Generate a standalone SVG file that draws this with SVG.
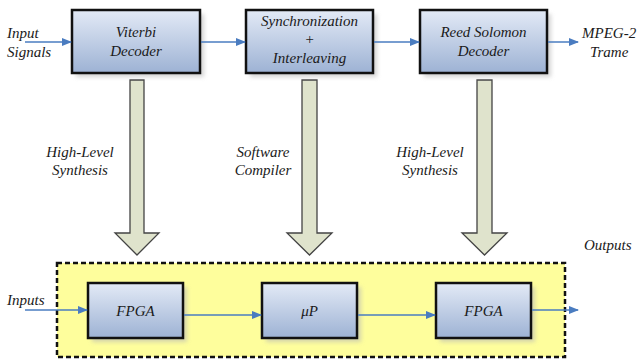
<svg xmlns="http://www.w3.org/2000/svg" width="637" height="360" viewBox="0 0 637 360">
<defs>
<linearGradient id="bg" x1="0" y1="0" x2="0" y2="1">
<stop offset="0" stop-color="#e3eaf6"/>
<stop offset="1" stop-color="#9db2d4"/>
</linearGradient>
<filter id="sh" x="-10%" y="-10%" width="130%" height="130%">
<feGaussianBlur stdDeviation="2"/>
</filter>
<marker id="ah" viewBox="0 0 10 10" refX="9" refY="5" markerWidth="10" markerHeight="10" markerUnits="userSpaceOnUse" orient="auto">
<path d="M0,1 L10,5 L0,9 Z" fill="#4a7cc0"/>
</marker>
</defs>
<style>
.box{fill:url(#bg);stroke:#111;stroke-width:2.5}
.shadow{fill:#b8b8b8;opacity:0.6;filter:url(#sh)}
text{font-family:"Times New Roman","Liberation Serif","Noto Serif",serif;font-style:italic;font-size:15px;fill:#1a1a1a}
.t{text-anchor:middle}
.c{stroke:#4a7cc0;stroke-width:1.5;fill:none;marker-end:url(#ah)}
.big{fill:#dfe3cc;stroke:#444;stroke-width:1.3}
</style>
<rect width="637" height="360" fill="#fff"/>
<g id="platform">
<rect x="57" y="263" width="508" height="94" fill="#fefe9c" stroke="#111" stroke-width="2.5" stroke-dasharray="5,3"/>
</g>
<g id="bigarrows">
<path class="big" d="M130,80 H144 V233 H159 L137,255 L115,233 H130 Z"/>
<path class="big" d="M302,80 H317 V233 H332 L309.5,255 L287,233 H302 Z"/>
<path class="big" d="M477,80 H492 V233 H507 L484.5,255 L462,233 H477 Z"/>
</g>
<g id="viterbi">
<rect class="shadow" x="76" y="14" width="128" height="63"/>
<rect class="box" x="72" y="10" width="128" height="63"/>
<text class="t" x="136" y="37">Viterbi</text>
<text class="t" x="136" y="56">Decoder</text>
</g>
<g id="sync">
<rect class="shadow" x="250" y="14" width="127" height="63"/>
<rect class="box" x="246" y="10" width="127" height="63"/>
<text class="t" x="309.5" y="26">Synchronization</text>
<text class="t" x="309.5" y="44">+</text>
<text class="t" x="309.5" y="63">Interleaving</text>
</g>
<g id="rs">
<rect class="shadow" x="424" y="14" width="127" height="63"/>
<rect class="box" x="420" y="10" width="127" height="63"/>
<text class="t" x="483.5" y="37">Reed Solomon</text>
<text class="t" x="483.5" y="56">Decoder</text>
</g>
<g id="fpga1">
<rect class="shadow" x="92" y="287" width="95" height="55"/>
<rect class="box" x="88" y="283" width="95" height="55"/>
<text class="t" x="135.5" y="316">FPGA</text>
</g>
<g id="up">
<rect class="shadow" x="266" y="287" width="95" height="55"/>
<rect class="box" x="262" y="283" width="95" height="55"/>
<text class="t" x="309.5" y="316">μP</text>
</g>
<g id="fpga2">
<rect class="shadow" x="440" y="287" width="95" height="55"/>
<rect class="box" x="436" y="283" width="95" height="55"/>
<text class="t" x="483.5" y="316">FPGA</text>
</g>
<g id="connectors">
<line class="c" x1="25" y1="42" x2="71" y2="42"/>
<line class="c" x1="201" y1="42" x2="245" y2="42"/>
<line class="c" x1="374" y1="42" x2="419" y2="42"/>
<line class="c" x1="548" y1="42" x2="578" y2="42"/>
<line class="c" x1="25" y1="310" x2="87" y2="310"/>
<line class="c" x1="184" y1="315" x2="261" y2="315"/>
<line class="c" x1="358" y1="315" x2="435" y2="315"/>
<line class="c" x1="532" y1="310" x2="578" y2="310"/>
</g>
<g id="labels">
<text x="7" y="38">Input</text>
<text x="7" y="57">Signals</text>
<text x="582" y="38">MPEG-2</text>
<text x="590" y="57">Trame</text>
<text class="t" x="80" y="157">High-Level</text>
<text class="t" x="80" y="175">Synthesis</text>
<text class="t" x="263" y="157">Software</text>
<text class="t" x="263" y="175">Compiler</text>
<text class="t" x="430" y="157">High-Level</text>
<text class="t" x="430" y="175">Synthesis</text>
<text x="584" y="250">Outputs</text>
<text x="7" y="305">Inputs</text>
</g>
</svg>
